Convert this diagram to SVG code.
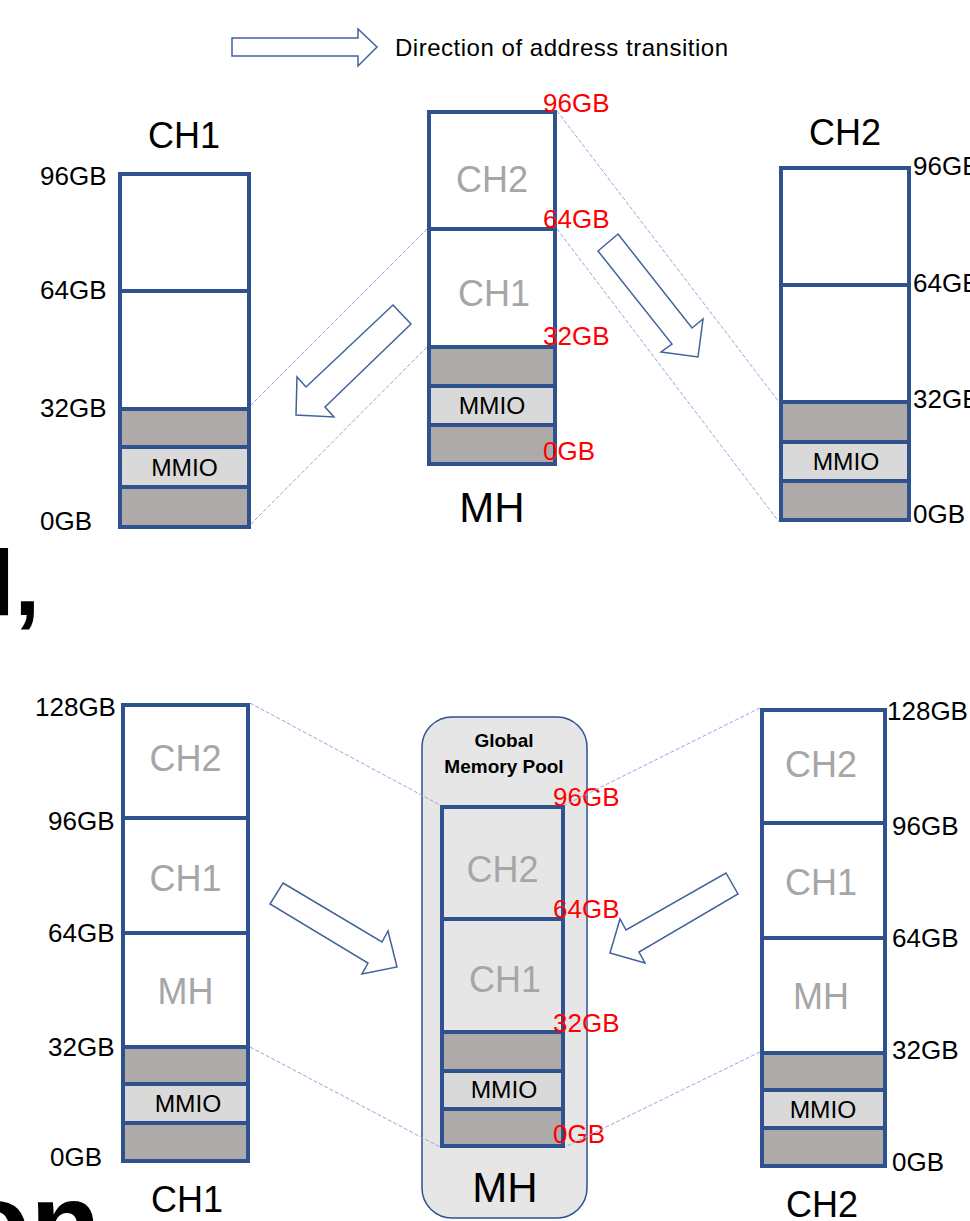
<svg xmlns="http://www.w3.org/2000/svg" width="970" height="1221" viewBox="0 0 970 1221">
<style>
.seg{stroke:#2F528F;stroke-width:4}
.w{fill:#FFFFFF}
.g{fill:#AEAAAA}
.m{fill:#D9D9D9}
.n{fill:none}
.t{font-family:"Liberation Sans",Arial,sans-serif;fill:#000}
.lab{font-size:26px}
.red{font-size:26px;fill:#FF0000}
.gr{font-size:36px;fill:#A6A6A6;text-anchor:middle}
.mm{font-size:24.5px;text-anchor:middle}
.ttl{font-size:36px;text-anchor:middle}
.dash{stroke:#8FAADC;stroke-width:1;stroke-dasharray:4 2;fill:none}
.blk{fill:#FFFFFF;stroke:#41629B;stroke-width:1.5;stroke-linejoin:miter}
</style>
<rect width="970" height="1221" fill="#FFFFFF"/>

<g id="background-text">
<text class="t" x="-11" y="615" font-size="92" font-weight="bold">l,</text>
<text class="t" x="-40" y="1263" font-size="115" font-weight="bold">on</text>
</g>

<g id="legend">
<polygon class="blk" points="232,38 358,38 358,29 377,47 358,66 358,56 232,56"/>
<text class="t" x="395" y="56" font-size="24" textLength="333" lengthAdjust="spacing">Direction of address transition</text>
</g>

<g id="ch1-top">
<text class="t ttl" x="184" y="148">CH1</text>
<rect class="seg w" x="120" y="174" width="129" height="117"/>
<rect class="seg w" x="120" y="291" width="129" height="118"/>
<rect class="seg g" x="120" y="409" width="129" height="38"/>
<rect class="seg m" x="120" y="447" width="129" height="40"/>
<rect class="seg g" x="120" y="487" width="129" height="40"/>
<text class="t mm" x="184.5" y="476">MMIO</text>
<text class="t lab" x="40" y="185">96GB</text>
<text class="t lab" x="40" y="299">64GB</text>
<text class="t lab" x="40" y="417">32GB</text>
<text class="t lab" x="40" y="530">0GB</text>
</g>

<g id="mh-top">
<rect class="seg w" x="429" y="112" width="126" height="117"/>
<rect class="seg w" x="429" y="229" width="126" height="118"/>
<rect class="seg g" x="429" y="347" width="126" height="39"/>
<rect class="seg m" x="429" y="386" width="126" height="39"/>
<rect class="seg g" x="429" y="425" width="126" height="39"/>
<text class="t gr" x="492" y="192">CH2</text>
<text class="t gr" x="494" y="306">CH1</text>
<text class="t mm" x="492" y="414">MMIO</text>
<text class="t red" x="543" y="112">96GB</text>
<text class="t red" x="543" y="228">64GB</text>
<text class="t red" x="543" y="345">32GB</text>
<text class="t red" x="543" y="460">0GB</text>
<text class="t" x="492" y="522" font-size="42" text-anchor="middle">MH</text>
</g>

<g id="ch2-top">
<text class="t ttl" x="845" y="145">CH2</text>
<rect class="seg w" x="781" y="168" width="128" height="117"/>
<rect class="seg w" x="781" y="285" width="128" height="117"/>
<rect class="seg g" x="781" y="402" width="128" height="40"/>
<rect class="seg m" x="781" y="442" width="128" height="39"/>
<rect class="seg g" x="781" y="481" width="128" height="39"/>
<text class="t mm" x="846" y="470">MMIO</text>
<text class="t lab" x="913" y="175">96GB</text>
<text class="t lab" x="913" y="292">64GB</text>
<text class="t lab" x="913" y="408">32GB</text>
<text class="t lab" x="913" y="523">0GB</text>
</g>

<g id="ch1-bottom">
<rect class="seg w" x="123" y="705" width="125" height="113"/>
<rect class="seg w" x="123" y="818" width="125" height="115"/>
<rect class="seg w" x="123" y="933" width="125" height="114"/>
<rect class="seg g" x="123" y="1047" width="125" height="37"/>
<rect class="seg m" x="123" y="1084" width="125" height="39"/>
<rect class="seg g" x="123" y="1123" width="125" height="38"/>
<text class="t gr" x="185.5" y="771">CH2</text>
<text class="t gr" x="185.5" y="891">CH1</text>
<text class="t gr" x="185.5" y="1004">MH</text>
<text class="t mm" x="188" y="1112">MMIO</text>
<text class="t lab" x="35" y="716">128GB</text>
<text class="t lab" x="48" y="830">96GB</text>
<text class="t lab" x="48" y="942">64GB</text>
<text class="t lab" x="48" y="1056">32GB</text>
<text class="t lab" x="50" y="1166">0GB</text>
<text class="t ttl" x="187" y="1212">CH1</text>
</g>

<g id="pool-bottom">
<rect x="422" y="717" width="165" height="501" rx="30" ry="30" fill="#E7E6E6" stroke="#2F528F" stroke-width="1.5"/>
<text class="t" x="504" y="747" font-size="19" font-weight="bold" text-anchor="middle">Global</text>
<text class="t" x="504" y="773" font-size="19" font-weight="bold" text-anchor="middle">Memory Pool</text>
<rect class="seg n" x="442" y="807" width="121" height="112"/>
<rect class="seg n" x="442" y="919" width="121" height="113"/>
<rect class="seg g" x="442" y="1032" width="121" height="39"/>
<rect class="seg m" x="442" y="1071" width="121" height="38"/>
<rect class="seg g" x="442" y="1109" width="121" height="37"/>
<text class="t gr" x="502.5" y="882">CH2</text>
<text class="t gr" x="505" y="992">CH1</text>
<text class="t mm" x="504" y="1098">MMIO</text>
<text class="t red" x="553" y="806">96GB</text>
<text class="t red" x="553" y="918">64GB</text>
<text class="t red" x="553" y="1032">32GB</text>
<text class="t red" x="553" y="1143">0GB</text>
<text class="t" x="505" y="1202" font-size="42" text-anchor="middle">MH</text>
</g>

<g id="ch2-bottom">
<rect class="seg w" x="762" y="710" width="123" height="113"/>
<rect class="seg w" x="762" y="823" width="123" height="115"/>
<rect class="seg w" x="762" y="938" width="123" height="115"/>
<rect class="seg g" x="762" y="1053" width="123" height="37"/>
<rect class="seg m" x="762" y="1090" width="123" height="38"/>
<rect class="seg g" x="762" y="1128" width="123" height="38"/>
<text class="t gr" x="821" y="777">CH2</text>
<text class="t gr" x="821" y="895">CH1</text>
<text class="t gr" x="821" y="1009">MH</text>
<text class="t mm" x="823" y="1118">MMIO</text>
<text class="t lab" x="887" y="720">128GB</text>
<text class="t lab" x="892" y="835">96GB</text>
<text class="t lab" x="892" y="947">64GB</text>
<text class="t lab" x="892" y="1059">32GB</text>
<text class="t lab" x="892" y="1171">0GB</text>
<text class="t ttl" x="822" y="1217">CH2</text>
</g>

<g id="connectors">
<line class="dash" x1="427" y1="229" x2="251" y2="405"/>
<line class="dash" x1="427" y1="347" x2="251" y2="524"/>
<line class="dash" x1="557" y1="111" x2="779" y2="402"/>
<line class="dash" x1="557" y1="229" x2="779" y2="522"/>
<line class="dash" x1="250" y1="703" x2="440" y2="805"/>
<line class="dash" x1="250" y1="1047" x2="440" y2="1147"/>
<line class="dash" x1="760" y1="708" x2="565" y2="805"/>
<line class="dash" x1="760" y1="1052" x2="565" y2="1147"/>
<polygon class="blk" points="393,305 411,324 325,407 334,417 296,415 297,377 306,387"/>
<polygon class="blk" points="618,234 598,251 672,344 661,352 698,357 703,319 692,328"/>
<polygon class="blk" points="283,883 382,942 388,931 397,967 362,974 368,963 270,904"/>
<polygon class="blk" points="726,873 738,894 639,952 645,963 610,953 620,919 626,930"/>
</g>
</svg>
